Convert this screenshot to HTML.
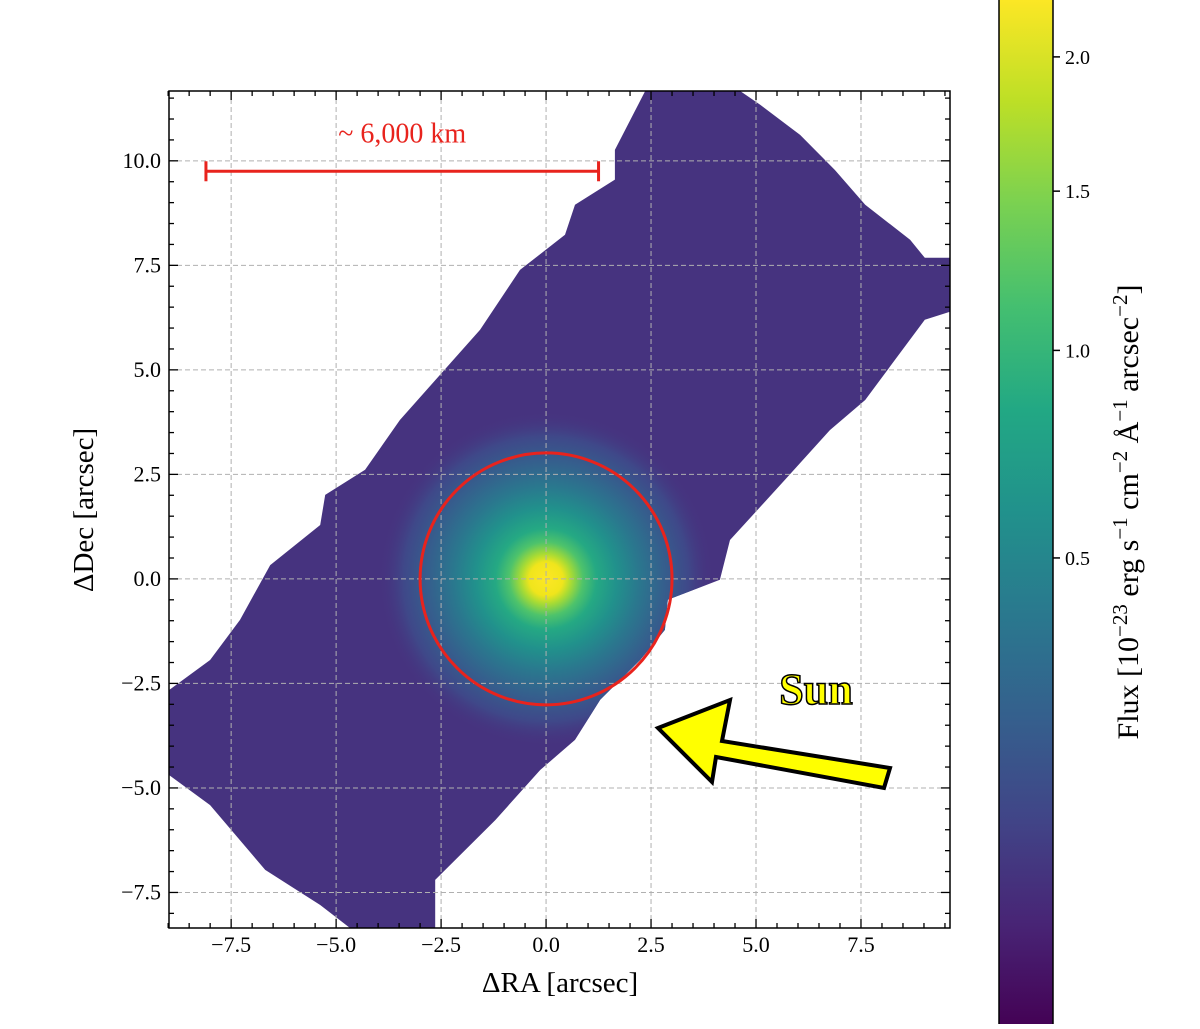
<!DOCTYPE html>
<html><head><meta charset="utf-8"><style>
body{margin:0;background:#fff;}
svg text{font-family:"Liberation Serif",serif;}
</style></head><body>
<svg id="fig" width="1200" height="1024" viewBox="0 0 1200 1024" xmlns="http://www.w3.org/2000/svg">
<defs>
<linearGradient id="viridis" x1="0" y1="1" x2="0" y2="0">
<stop offset="0" stop-color="#440154"/><stop offset="0.1" stop-color="#482475"/><stop offset="0.2" stop-color="#414487"/><stop offset="0.3" stop-color="#355f8d"/><stop offset="0.4" stop-color="#2a788e"/><stop offset="0.5" stop-color="#21918c"/><stop offset="0.6" stop-color="#22a884"/><stop offset="0.7" stop-color="#44bf70"/><stop offset="0.8" stop-color="#7ad151"/><stop offset="0.9" stop-color="#bddf26"/><stop offset="1" stop-color="#fde725"/>
</linearGradient>
<radialGradient id="src" cx="0.5" cy="0.5" r="0.5">
<stop offset="0" stop-color="#fde725"/><stop offset="0.1" stop-color="#f0e51c"/><stop offset="0.15" stop-color="#a8db34"/><stop offset="0.22" stop-color="#4ec36b"/><stop offset="0.3" stop-color="#25a983"/><stop offset="0.42" stop-color="#21918c"/><stop offset="0.55" stop-color="#2a788e"/><stop offset="0.7" stop-color="#355f8d"/><stop offset="0.85" stop-color="#3f4889"/><stop offset="1" stop-color="#46337f" stop-opacity="0"/>
</radialGradient>
<clipPath id="plotclip"><rect x="169" y="91" width="781" height="837"/></clipPath>
</defs>
<g id="plot" clip-path="url(#plotclip)"></g>
<g id="axes"></g>
</svg>
<script>
const xTicks=[-7.5,-5.0,-2.5,0.0,2.5,5.0,7.5];
const yTicks=[-7.5,-5.0,-2.5,0.0,2.5,5.0,7.5,10.0];
const cbTicks=[0.5,1.0,1.5,2.0];
const maskX=[2.36,4.62,5.10,6.05,6.88,7.60,8.67,9.02,9.62,9.62,9.02,7.60,6.76,5.69,4.38,4.14,2.90,2.83,2.24,1.29,0.69,-0.14,-1.21,-2.64,-2.64,-4.67,-5.38,-6.69,-8.00,-8.98,-8.98,-8.00,-7.29,-6.57,-5.38,-5.26,-4.31,-3.48,-1.57,-0.62,0.45,0.69,1.64,1.64];
const maskY=[11.67,11.67,11.34,10.62,9.78,8.95,8.11,7.68,7.68,6.39,6.20,4.28,3.56,2.37,0.93,-0.02,-0.50,-1.22,-1.94,-2.89,-3.85,-4.57,-5.77,-7.20,-8.35,-8.35,-7.80,-6.96,-5.41,-4.69,-2.66,-1.94,-0.98,0.33,1.29,2.01,2.61,3.80,5.96,7.39,8.23,8.95,9.55,10.26];
const sourceXY=[0.0,0.0];
const sourceRadius=4.0;
const apertureRadius=3.0;
const scaleBar=[-8.1,1.25,9.75];

const NS="http://www.w3.org/2000/svg";
const X0=169,X1=950,Y0=91,Y1=928,XMIN=-8.98,XMAX=9.62,YMIN=-8.35,YMAX=11.67;
const sx=v=>X0+(v-XMIN)/(XMAX-XMIN)*(X1-X0);
const sy=v=>Y1-(v-YMIN)/(YMAX-YMIN)*(Y1-Y0);
const cbY=v=>1059-708.6*Math.sqrt(v);
function mk(tag,attrs,parent){const e=document.createElementNS(NS,tag);for(const k in attrs)e.setAttribute(k,attrs[k]);parent.appendChild(e);return e;}
const plot=document.getElementById('plot'),axes=document.getElementById('axes');

const clipMask=mk('clipPath',{id:'maskclip'},document.querySelector('defs'));
const pts=maskX.map((x,i)=>sx(x).toFixed(1)+','+sy(maskY[i]).toFixed(1)).join(' ');
mk('polygon',{points:pts},clipMask);
const field=mk('polygon',{points:pts,fill:'#46337f'},plot);


const g=mk('g',{'clip-path':'url(#maskclip)'},plot);
const rx=sourceRadius*(sx(1)-sx(0));
const src=mk('ellipse',{cx:sx(sourceXY[0]),cy:sy(sourceXY[1]),rx:rx,ry:rx,fill:'url(#src)'},g);



for(const t of xTicks){const l=mk('line',{x1:sx(t),x2:sx(t),y1:Y0,y2:Y1,stroke:'#b0b0b0','stroke-dasharray':'5,3','stroke-width':1},axes);}
for(const t of yTicks){const l=mk('line',{y1:sy(t),y2:sy(t),x1:X0,x2:X1,stroke:'#b0b0b0','stroke-dasharray':'5,3','stroke-width':1},axes);}

const ar=apertureRadius*(sx(1)-sx(0));
const circ=mk('circle',{cx:sx(0),cy:sy(0),r:ar,fill:'none',stroke:'#e8231d','stroke-width':3},axes);



const by=sy(scaleBar[2]);
const sb=mk('g',{stroke:'#e8231d','stroke-width':3},axes);


mk('line',{x1:sx(scaleBar[0]),x2:sx(scaleBar[1]),y1:by,y2:by},sb);
mk('line',{x1:sx(scaleBar[0]),x2:sx(scaleBar[0]),y1:by-10,y2:by+10},sb);
mk('line',{x1:sx(scaleBar[1]),x2:sx(scaleBar[1]),y1:by-10,y2:by+10},sb);
const sbt=mk('text',{x:(sx(scaleBar[0])+sx(scaleBar[1]))/2,y:by-29,'text-anchor':'middle','font-size':28,fill:'#e8231d'},axes);
sbt.textContent='~ 6,000 km';



const arrow=mk('polygon',{points:'658,728 730,700 722,741 890,768 884,788 716,757 712,782',fill:'#ffff00',stroke:'#000','stroke-width':4,'stroke-linejoin':'miter'},axes);


const sun=mk('text',{x:816,y:704,'text-anchor':'middle','font-size':44,'font-weight':'bold',fill:'#ffff00',stroke:'#000','stroke-width':1.5},axes);
sun.textContent='Sun';



const fr=mk('rect',{x:X0,y:Y0,width:X1-X0,height:Y1-Y0,fill:'none',stroke:'#000','stroke-width':1.5},axes);



const tk=mk('g',{stroke:'#000','stroke-width':1.3},axes);
for(let v=-9;v<=9.6;v+=0.5){const p=sx(v);const maj=Math.abs(v/2.5-Math.round(v/2.5))<1e-6;const L=maj?9:5;mk('line',{x1:p,x2:p,y1:Y1,y2:Y1-L},tk);mk('line',{x1:p,x2:p,y1:Y0,y2:Y0+L},tk);}
for(let v=-8;v<=11.6;v+=0.5){const p=sy(v);const maj=Math.abs(v/2.5-Math.round(v/2.5))<1e-6;const L=maj?9:5;mk('line',{y1:p,y2:p,x1:X0,x2:X0+L},tk);mk('line',{y1:p,y2:p,x1:X1,x2:X1-L},tk);}
const fmt=v=>(v<0?'\u2212':'')+Math.abs(v).toFixed(1);
for(const t of xTicks){const e=mk('text',{x:sx(t),y:952,'text-anchor':'middle','font-size':22},axes);e.textContent=fmt(t);}
for(const t of yTicks){const e=mk('text',{x:161,y:sy(t)+7,'text-anchor':'end','font-size':22},axes);e.textContent=fmt(t);}
const xl=mk('text',{x:560,y:992,'text-anchor':'middle','font-size':29},axes);xl.textContent='\u0394RA [arcsec]';

const yl=mk('text',{x:0,y:0,'text-anchor':'middle','font-size':29,transform:'translate(93,510) rotate(-90)'},axes);yl.textContent='\u0394Dec [arcsec]';


const cb=mk('rect',{x:999,y:-2,width:54,height:1030,fill:'url(#viridis)',stroke:'#000','stroke-width':1.5},axes);

for(const t of cbTicks){const p=cbY(t);mk('line',{x1:1053,x2:1060,y1:p,y2:p,stroke:'#000','stroke-width':1.5},axes);
const e=mk('text',{x:1065,y:p+7,'font-size':20},axes);e.textContent=t.toFixed(1);}
const cl=mk('text',{x:0,y:0,'text-anchor':'middle','font-size':30,transform:'translate(1138,512) rotate(-90)'},axes);
cl.innerHTML='Flux [10<tspan dy="-11" font-size="21">\u221223</tspan><tspan dy="11"> erg s</tspan><tspan dy="-11" font-size="21">\u22121</tspan><tspan dy="11"> cm</tspan><tspan dy="-11" font-size="21">\u22122</tspan><tspan dy="11"> \u00c5</tspan><tspan dy="-11" font-size="21">\u22121</tspan><tspan dy="11"> arcsec</tspan><tspan dy="-11" font-size="21">\u22122</tspan><tspan dy="11">]</tspan>';

</script>
</body></html>
